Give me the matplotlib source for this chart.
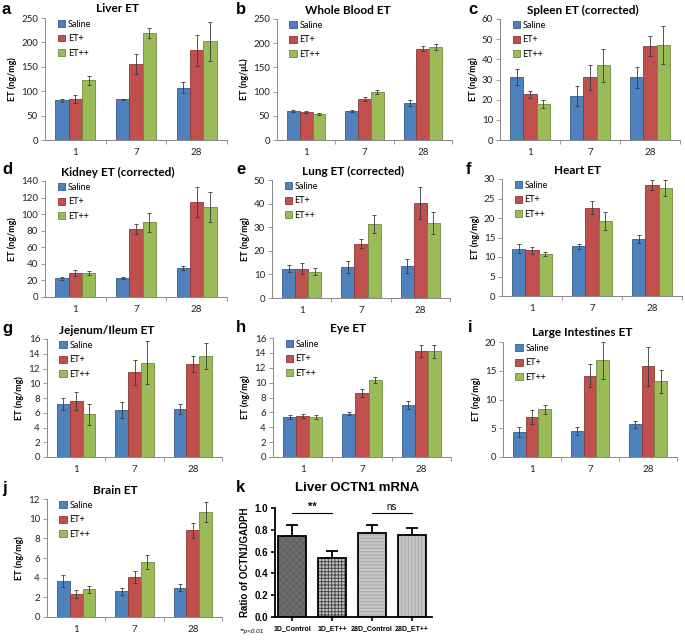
import matplotlib.pyplot as plt
import numpy as np

FIG_W, FIG_H = 685, 641

days = ["1", "7", "28"]
groups = ["Saline", "ET+", "ET++"]

liver_saline = [81, 83, 107]
liver_saline_err = [4, 2, 11]
liver_etp = [84, 156, 184]
liver_etp_err = [9, 21, 32]
liver_etpp = [122, 219, 202]
liver_etpp_err = [10, 10, 40]

blood_saline = [59, 60, 77]
blood_saline_err = [2, 2, 6]
blood_etp = [57, 85, 189]
blood_etp_err = [2, 4, 6]
blood_etpp = [54, 100, 192]
blood_etpp_err = [2, 4, 6]

spleen_saline = [31.3, 22, 31]
spleen_saline_err = [4, 5, 5.3]
spleen_etp = [22.6, 31, 46.6]
spleen_etp_err = [1.8, 6, 5]
spleen_etpp = [18, 37, 47]
spleen_etpp_err = [2, 8.3, 9.5]

kidney_saline = [22.5, 23.5, 35]
kidney_saline_err = [2, 1.2, 3]
kidney_etp = [28.5, 82, 114.5]
kidney_etp_err = [3.5, 6.5, 18]
kidney_etpp = [28.5, 90, 109]
kidney_etpp_err = [2.5, 11, 18]

lung_saline = [12.5, 13, 13.5]
lung_saline_err = [1.5, 2.5, 3]
lung_etp = [12.5, 23, 40.3]
lung_etp_err = [2.5, 1.8, 6.8]
lung_etpp = [11.2, 31.5, 31.8]
lung_etpp_err = [1.5, 3.8, 4.5]

heart_saline = [12.1, 12.7, 14.6]
heart_saline_err = [1.2, 0.7, 1.1]
heart_etp = [11.7, 22.6, 28.4]
heart_etp_err = [0.9, 1.7, 1.3]
heart_etpp = [10.8, 19.2, 27.7]
heart_etpp_err = [0.6, 2.3, 2.0]

jej_saline = [7.2, 6.4, 6.5]
jej_saline_err = [0.8, 1.1, 0.7]
jej_etp = [7.6, 11.5, 12.6]
jej_etp_err = [1.2, 1.7, 1.1]
jej_etpp = [5.8, 12.8, 13.7]
jej_etpp_err = [1.4, 2.9, 1.8]

eye_saline = [5.4, 5.8, 7.0]
eye_saline_err = [0.3, 0.2, 0.5]
eye_etp = [5.5, 8.6, 14.2]
eye_etp_err = [0.3, 0.5, 0.8]
eye_etpp = [5.4, 10.3, 14.2]
eye_etpp_err = [0.3, 0.4, 0.9]

li_saline = [4.4, 4.6, 5.7]
li_saline_err = [0.9, 0.7, 0.6]
li_etp = [6.9, 14.1, 15.8]
li_etp_err = [1.2, 2.0, 3.4]
li_etpp = [8.3, 16.8, 13.2]
li_etpp_err = [0.8, 3.2, 2.0]

brain_saline = [3.7, 2.6, 3.0]
brain_saline_err = [0.6, 0.4, 0.4]
brain_etp = [2.3, 4.1, 8.8]
brain_etp_err = [0.4, 0.6, 0.75]
brain_etpp = [2.8, 5.6, 10.7]
brain_etpp_err = [0.4, 0.7, 1.0]

octn_labels = ["1D_Control", "1D_ET++", "28D_Control", "28D_ET++"]
octn_ratio = [0.74, 0.54, 0.77, 0.755]
octn_err = [0.10, 0.07, 0.07, 0.065]

FACE = ["#4F81BD", "#C0504D", "#9BBB59"]
EDGE = ["#385D8A", "#8C3836", "#71893F"]
XL_FONT = ["Lato", "DejaVu Sans"]


def px_axes(fig, x0, y0, x1, y1):
    return fig.add_axes([x0 / FIG_W, 1 - y1 / FIG_H, (x1 - x0) / FIG_W, (y1 - y0) / FIG_H])


def excel_panel(fig, box, title, title_x, letter, letter_xy, ylabel, series, errs, ymax, ystep):
    ax = px_axes(fig, *box)
    x = np.arange(1, 4)
    w = 0.22
    for i, (vals, err) in enumerate(zip(series, errs)):
        ax.bar(x + (i - 1) * w, vals, w, color=FACE[i], edgecolor=EDGE[i], linewidth=0.6,
               label=groups[i], zorder=2)
        ax.errorbar(x + (i - 1) * w, vals, yerr=err, fmt="none", ecolor="#3a3a3a",
                    elinewidth=0.6, capsize=1.5, capthick=0.6, zorder=3)
    ax.set_xlim(0.5, 3.5)
    ax.set_ylim(0, ymax)
    ax.set_yticks(np.arange(0, ymax + ystep / 2, ystep))
    ax.set_xticks(x)
    ax.set_xticklabels(days)
    ax.set_xticks([1.5, 2.5, 3.5], minor=True)
    ax.tick_params(axis="x", which="major", length=0, pad=6, labelsize=7, colors="#222222")
    ax.tick_params(axis="x", which="minor", length=3, color="#888888", width=0.6)
    ax.tick_params(axis="y", length=3, color="#888888", width=0.6, labelsize=7, colors="#222222", pad=2)
    for lab in ax.get_xticklabels() + ax.get_yticklabels():
        lab.set_family(XL_FONT)
    for s in ["top", "right"]:
        ax.spines[s].set_visible(False)
    for s in ["left", "bottom"]:
        ax.spines[s].set_color("#888888")
        ax.spines[s].set_linewidth(0.7)
    ax.set_ylabel(ylabel, fontsize=6.5, fontweight="bold", family=XL_FONT, labelpad=3)
    ax.legend(loc="upper left", bbox_to_anchor=(0.04, 1.03), frameon=False,
              prop={"family": XL_FONT, "size": 6.5}, handlelength=0.8, handleheight=0.8,
              handletextpad=0.3, labelspacing=0.6, borderaxespad=0.2)
    fig.text(title_x / FIG_W, 1 - (box[1] - 9) / FIG_H, title, ha="center", va="center",
             fontsize=8.5, fontweight="bold", family=XL_FONT)
    fig.text(letter_xy[0] / FIG_W, 1 - letter_xy[1] / FIG_H, letter, ha="left", va="center",
             fontsize=12, fontweight="bold", family=["Liberation Sans", "DejaVu Sans"])
    return ax


panels = [
    ((45, 18, 227, 140), "Liver ET", 118, "a", (2, 10), "ET (ng/mg)",
     [liver_saline, liver_etp, liver_etpp], [liver_saline_err, liver_etp_err, liver_etpp_err], 250, 50),
    ((277, 19, 452, 140), "Whole Blood ET", 348, "b", (236, 10), "ET (ng/μL)",
     [blood_saline, blood_etp, blood_etpp], [blood_saline_err, blood_etp_err, blood_etpp_err], 250, 50),
    ((500, 19, 680, 140), "Spleen ET (corrected)", 583, "c", (468, 10), "ET (ng/mg)",
     [spleen_saline, spleen_etp, spleen_etpp], [spleen_saline_err, spleen_etp_err, spleen_etpp_err], 60, 10),
    ((45, 181, 227, 297), "Kidney ET (corrected)", 118, "d", (2, 170), "ET (ng/mg)",
     [kidney_saline, kidney_etp, kidney_etpp], [kidney_saline_err, kidney_etp_err, kidney_etpp_err], 140, 20),
    ((272, 180, 450, 298), "Lung ET (corrected)", 353, "e", (236, 170), "ET (ng/mg)",
     [lung_saline, lung_etp, lung_etpp], [lung_saline_err, lung_etp_err, lung_etpp_err], 50, 10),
    ((502, 179, 682, 296), "Heart ET", 578, "f", (466, 170), "ET (ng/mg)",
     [heart_saline, heart_etp, heart_etpp], [heart_saline_err, heart_etp_err, heart_etpp_err], 30, 5),
    ((47, 339, 222, 457), "Jejenum/Ileum ET", 107, "g", (2, 328), "ET (ng/mg)",
     [jej_saline, jej_etp, jej_etpp], [jej_saline_err, jej_etp_err, jej_etpp_err], 16, 2),
    ((273, 338, 451, 457), "Eye ET", 348, "h", (236, 328), "ET (ng/mg)",
     [eye_saline, eye_etp, eye_etpp], [eye_saline_err, eye_etp_err, eye_etpp_err], 16, 2),
    ((503, 342, 677, 457), "Large Intestines ET", 582, "i", (468, 328), "ET (ng/mg)",
     [li_saline, li_etp, li_etpp], [li_saline_err, li_etp_err, li_etpp_err], 20, 5),
    ((47, 499, 222, 617), "Brain ET", 115, "j", (2, 488), "ET (ng/mg)",
     [brain_saline, brain_etp, brain_etpp], [brain_saline_err, brain_etp_err, brain_etpp_err], 12, 2),
]

fig = plt.figure(figsize=(FIG_W / 100, FIG_H / 100), dpi=100)

for p in panels:
    excel_panel(fig, *p)

# panel k, GraphPad style
ARIAL = ["Liberation Sans", "DejaVu Sans"]
plt.rcParams["hatch.linewidth"] = 0.7
ax = px_axes(fig, 275, 508, 432, 617)
pos = np.arange(4)
faces = ["#6e6e6e", "#c8c8c8", "#c6c6c6", "#c6c6c6"]
hatches = ["xxxxx", "+++++", "-----", "|||||"]
hatch_cols = ["#5e5e5e", "#4a4a4a", "#a9a9a9", "#a9a9a9"]
for i in range(4):
    ax.bar(pos[i], octn_ratio[i], 0.7, color=faces[i], edgecolor=hatch_cols[i],
           hatch=hatches[i], linewidth=0, zorder=2)
    ax.bar(pos[i], octn_ratio[i], 0.7, fill=False, edgecolor="black", linewidth=1.3, zorder=3)
ax.errorbar(pos, octn_ratio, yerr=[[0] * 4, octn_err], fmt="none", ecolor="black",
            elinewidth=1.3, capsize=4, capthick=1.3, zorder=1)
ax.set_xlim(-0.43, 3.5)
ax.set_ylim(0, 1.0)
ax.set_yticks(np.arange(0, 1.01, 0.2))
ax.set_yticklabels([f"{v:.1f}" for v in np.arange(0, 1.01, 0.2)])
ax.set_xticks(pos)
ax.set_xticklabels(octn_labels)
ax.tick_params(axis="x", length=3, width=1.2, labelsize=5, pad=3)
ax.tick_params(axis="y", length=3, width=1.2, labelsize=7, pad=2)
for lab in ax.get_xticklabels() + ax.get_yticklabels():
    lab.set_family(ARIAL)
    lab.set_fontweight("bold")
for s in ["top", "right"]:
    ax.spines[s].set_visible(False)
for s in ["left", "bottom"]:
    ax.spines[s].set_linewidth(1.3)
ax.set_ylabel("Ratio of OCTN1/GADPH", fontsize=7, fontweight="bold", family=ARIAL, labelpad=3)
ax.plot([0.0, 1.0], [0.955, 0.955], color="black", linewidth=0.8, clip_on=False)
ax.text(0.5, 0.965, "**", ha="center", va="bottom", fontsize=8, fontweight="bold", family=ARIAL)
ax.plot([2.0, 3.0], [0.955, 0.955], color="black", linewidth=0.8, clip_on=False)
ax.text(2.5, 0.965, "ns", ha="center", va="bottom", fontsize=7, family=ARIAL)
fig.text(357 / FIG_W, 1 - 488 / FIG_H, "Liver OCTN1 mRNA", ha="center", va="center",
         fontsize=9.5, fontweight="bold", family=ARIAL)
fig.text(236 / FIG_W, 1 - 488 / FIG_H, "k", ha="left", va="center",
         fontsize=12, fontweight="bold", family=ARIAL)
fig.text(240 / FIG_W, 1 - 631 / FIG_H, "**p<0.01", ha="left", va="center",
         fontsize=4.5, style="italic", family=ARIAL)

fig.savefig("out.png", dpi=100)
